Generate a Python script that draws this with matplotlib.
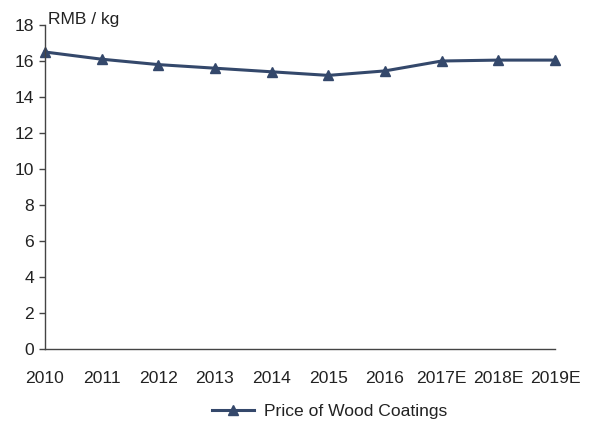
import matplotlib
matplotlib.use("Agg")
import matplotlib.pyplot as plt

years = ["2010", "2011", "2012", "2013", "2014", "2015", "2016", "2017E", "2018E", "2019E"]
price = [16.5, 16.1, 15.8, 15.6, 15.4, 15.2, 15.45, 16.0, 16.05, 16.05]
yticks = list(range(0, 19, 2))

LINE = "#34486b"
TXT = "#222222"
FS = 12.6
plt.rcParams["font.family"] = ["Liberation Sans", "DejaVu Sans"]

fig = plt.figure(figsize=(5.89, 4.25), dpi=100)
ax = fig.add_axes([45 / 589, 1 - 349 / 425, 510 / 589, 324 / 425])
x = list(range(len(years)))
ax.plot(x, price, color=LINE, lw=2.2, marker="^", ms=6.5, label="Price of Wood Coatings", clip_on=False)

ax.set_xlim(0, len(years) - 1)
ax.set_ylim(0, 18)
ax.set_yticks(yticks)
ax.set_xticks(x)
ax.set_xticklabels(years)
for s in ("top", "right"):
    ax.spines[s].set_visible(False)
for s in ("left", "bottom"):
    ax.spines[s].set_color("#444444")
    ax.spines[s].set_linewidth(1.0)
ax.tick_params(axis="y", length=4, width=1, color="#444444", labelsize=FS, labelcolor=TXT, pad=4)
ax.tick_params(axis="x", length=0, labelsize=FS, labelcolor=TXT, pad=16)
ax.text(0.06, 17.9, "RMB / kg", fontsize=FS, color=TXT, va="bottom", ha="left")

fig.legend(loc="center", bbox_to_anchor=(0.56, 1 - 411 / 425), frameon=False, fontsize=FS,
           handlelength=2.4, handletextpad=0.6, labelcolor=TXT)
fig.savefig("out.png", dpi=100)
